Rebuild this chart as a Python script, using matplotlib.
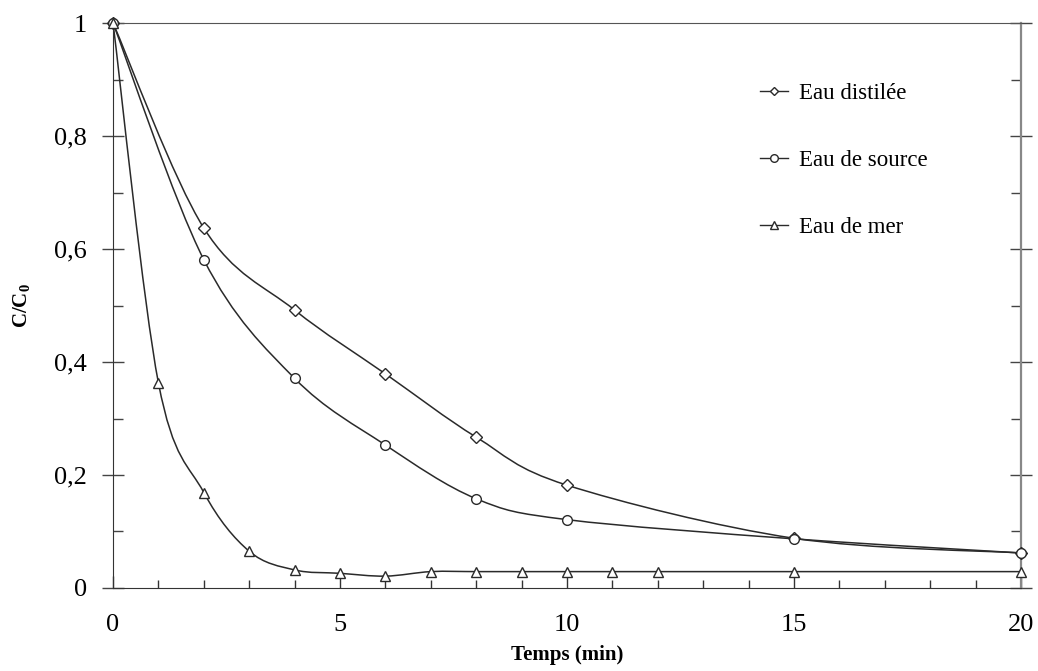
import numpy as np
import matplotlib
matplotlib.use('Agg')
import matplotlib.pyplot as plt
from matplotlib.path import Path
from matplotlib.patches import PathPatch
from matplotlib.lines import Line2D
from matplotlib.ticker import MultipleLocator, FuncFormatter

plt.rcParams['font.family'] = 'Liberation Serif'
plt.rcParams['mathtext.fontset'] = 'custom'
plt.rcParams['mathtext.rm'] = 'Liberation Serif'
plt.rcParams['mathtext.bf'] = 'Liberation Serif:bold'

# data
t_dist = [0, 2, 4, 6, 8, 10, 15, 20]
c_dist = [1.0, 0.637, 0.492, 0.379, 0.267, 0.182, 0.088, 0.062]

t_source = [0, 2, 4, 6, 8, 10, 15, 20]
c_source = [1.0, 0.581, 0.371, 0.253, 0.158, 0.121, 0.087, 0.062]

t_mer = [0, 1, 2, 3, 4, 5, 6, 7, 8, 9, 10, 11, 12, 15, 20]
c_mer = [1.0, 0.363, 0.169, 0.065, 0.032, 0.026, 0.021, 0.029, 0.029,
         0.029, 0.029, 0.029, 0.029, 0.029, 0.029]

labels = ['Eau distilée', 'Eau de source', 'Eau de mer']
markers = ['D', 'o', '^']
msizes = [6, 7, 7]

line_col = '#2a2a2a'


def smooth_path(x, y):
    # Excel-like smoothed line: cubic bezier with catmull-rom control points
    x = np.asarray(x, float)
    y = np.asarray(y, float)
    n = len(x)
    verts = [(x[0], y[0])]
    codes = [Path.MOVETO]
    for i in range(n - 1):
        p0 = np.array([x[max(i - 1, 0)], y[max(i - 1, 0)]])
        p1 = np.array([x[i], y[i]])
        p2 = np.array([x[i + 1], y[i + 1]])
        p3 = np.array([x[min(i + 2, n - 1)], y[min(i + 2, n - 1)]])
        c1 = p1 + (p2 - p0) / 6.0
        c2 = p2 - (p3 - p1) / 6.0
        verts += [tuple(c1), tuple(c2), tuple(p2)]
        codes += [Path.CURVE4] * 3
    return Path(verts, codes)


fig = plt.figure(figsize=(10.38, 6.71), dpi=100)
ax = fig.add_axes([0.1089, 0.1237, 0.8747, 0.842])

series = [(t_dist, c_dist), (t_source, c_source), (t_mer, c_mer)]
handles = []
for (tx, cy), lab, mk, ms in zip(series, labels, markers, msizes):
    patch = PathPatch(smooth_path(tx, cy), facecolor='none', edgecolor=line_col,
                      lw=1.1, zorder=2)
    ax.add_patch(patch)
    ax.plot(tx, cy, linestyle='none', marker=mk, markersize=ms,
            markerfacecolor='white', markeredgecolor=line_col,
            markeredgewidth=1.0, zorder=3, clip_on=False)
    handles.append(Line2D([], [], color=line_col, lw=1.0, marker=mk,
                          markersize=ms - 1.5, markerfacecolor='white',
                          markeredgecolor=line_col, label=lab))

ax.set_xlim(0, 20)
ax.set_ylim(0, 1)
ax.xaxis.set_major_locator(MultipleLocator(5))
ax.xaxis.set_minor_locator(MultipleLocator(1))
ax.yaxis.set_major_locator(MultipleLocator(0.2))
ax.yaxis.set_minor_locator(MultipleLocator(0.1))
ax.yaxis.set_major_formatter(FuncFormatter(
    lambda v, p: '0' if abs(v) < 1e-9 else ('1' if abs(v - 1) < 1e-9 else f'{v:.1f}'.replace('.', ','))))

ax.spines['left'].set_color('#333333')
ax.spines['bottom'].set_color('#333333')
ax.spines['top'].set_color('#555555')
ax.spines['right'].set_color('#888888')
ax.spines['right'].set_linewidth(1.6)

ax.tick_params(axis='x', which='major', direction='in', length=9, width=1,
               labelsize=19, pad=19, top=False, color='#333333')
ax.tick_params(axis='x', which='minor', direction='in', length=6, width=1,
               top=False, color='#333333')
ax.tick_params(axis='y', which='major', direction='inout', length=16, width=1,
               labelsize=19, pad=11, right=True, color='#444444')
ax.tick_params(axis='y', which='minor', direction='in', length=7, width=1,
               right=True, color='#444444')

ax.set_xlabel('Temps (min)', fontsize=15, fontweight='bold', labelpad=6)
ax.set_ylabel(r'C/C$_{\mathbf{0}}$', fontsize=15, fontweight='bold', labelpad=15)

ax.legend(handles=handles, loc='upper left', bbox_to_anchor=(0.69, 0.93),
          frameon=False, fontsize=16.5, handlelength=1.2, handletextpad=0.5,
          labelspacing=2.0)

fig.savefig('out.png', dpi=100)
